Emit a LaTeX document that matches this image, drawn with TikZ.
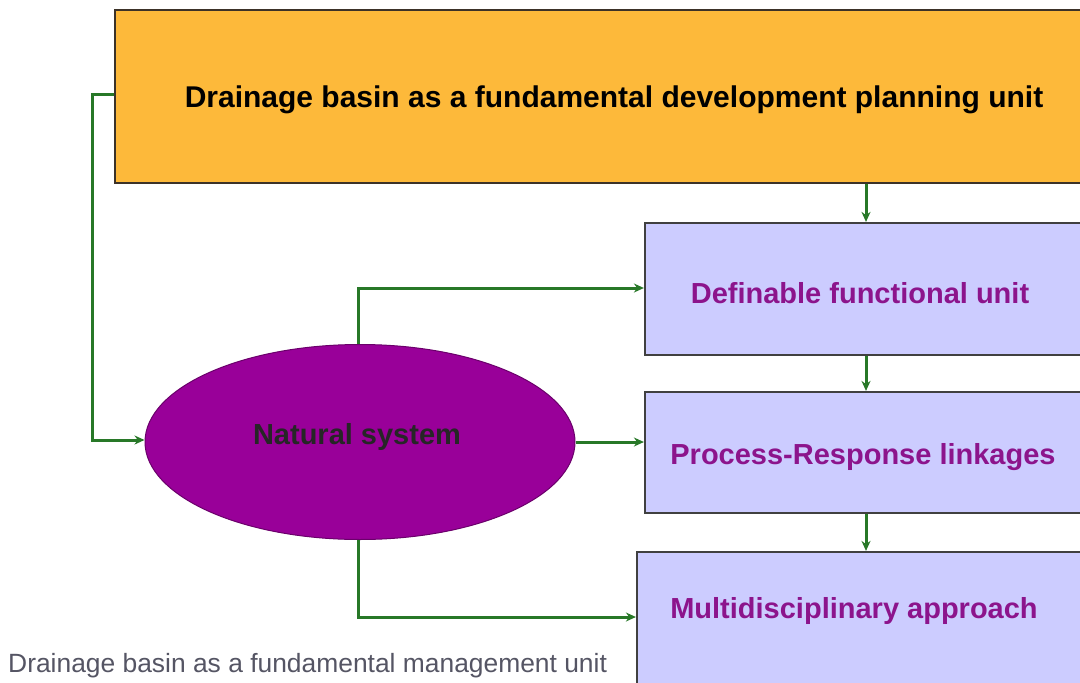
\documentclass[tikz,border=0pt]{standalone}
\usepackage{fontspec}
\setmainfont{Liberation Sans}
\usetikzlibrary{arrows.meta,shapes.geometric}
\definecolor{orangefill}{RGB}{253,185,58}
\definecolor{lavfill}{RGB}{204,204,255}
\definecolor{purplefill}{RGB}{153,0,153}
\definecolor{purpletext}{RGB}{140,20,140}
\definecolor{linegreen}{RGB}{40,120,40}
\definecolor{captiongray}{RGB}{85,85,100}
\definecolor{boxborder}{RGB}{60,50,40}
\tikzset{
  topbox/.style={draw=boxborder, line width=2.2pt, fill=orangefill, rectangle, inner sep=0pt},
  unitbox/.style={draw=black!75, line width=2.2pt, fill=lavfill, rectangle, inner sep=0pt},
  natural/.style={draw=purplefill!70!black, line width=1pt, fill=purplefill, ellipse, inner sep=0pt},
  toplbl/.style={inner sep=0pt, font=\fontsize{30}{34}\selectfont\bfseries, text=black},
  unitlbl/.style={inner sep=0pt, font=\fontsize{29}{34}\selectfont\bfseries, text=purpletext},
  natlbl/.style={inner sep=0pt, font=\fontsize{29}{34}\selectfont\bfseries, text=black!85},
  conn/.style={draw=linegreen, line width=3pt, -{Stealth[length=10pt,width=9pt]}},
  caption/.style={font=\fontsize{26.4}{30}\selectfont, text=captiongray, inner sep=0pt, anchor=base west}
}
\begin{document}
\begin{tikzpicture}[x=1pt,y=-1pt]
\useasboundingbox (0,0) rectangle (1080,683);
\fill[white] (0,0) rectangle (1080,683);
% boxes
\node[topbox, minimum width=980pt, minimum height=173pt] (top) at (605,96.5) {};
\node[toplbl] (toptext) at (614,100) {Drainage basin as a fundamental development planning unit};
\node[unitbox, minimum width=445pt, minimum height=132pt] (def) at (867.5,289) {};
\node[unitlbl] (deftext) at (860,293) {Definable functional unit};
\node[unitbox, minimum width=445pt, minimum height=121pt] (proc) at (867.5,452.5) {};
\node[unitlbl] (proctext) at (863,457) {Process-Response linkages};
\node[unitbox, minimum width=453pt, minimum height=132pt] (multi) at (863.5,618) {};
\node[unitlbl] (multitext) at (854,611) {Multidisciplinary approach};
\node[natural, minimum width=430pt, minimum height=195pt] (nat) at (360,442) {};
\node[natlbl] (nattext) at (357,437) {Natural system};
% caption
\node[caption] (cap) at (8,672) {Drainage basin as a fundamental management unit};
% connectors
\coordinate (c1) at (92,94);
\coordinate (c2) at (92,440);
\draw[conn] (top.west |- c1) -- (c1) -- (c2) -- (nat.west |- c2);
\draw[conn] (top.south -| 866,0) -- (def.north -| 866,0);
\draw[conn] (def.south -| 866,0) -- (proc.north -| 866,0);
\draw[conn] (proc.south -| 866,0) -- (multi.north -| 866,0);
\coordinate (d1) at (358,288);
\draw[conn] (nat.north -| d1) -- (d1) -- (def.west |- d1);
\draw[conn] (nat.east) -- (proc.west |- nat.east);
\coordinate (e1) at (358,617);
\draw[conn] (nat.south -| e1) -- (e1) -- (multi.west |- e1);
\end{tikzpicture}
\end{document}
